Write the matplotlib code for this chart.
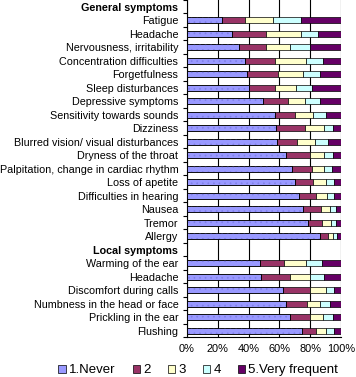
import numpy as np
import matplotlib
matplotlib.use("Agg")
import matplotlib.pyplot as plt
from matplotlib.patches import Patch

plt.rcParams['font.family'] = ['Liberation Sans', 'DejaVu Sans']
plt.rcParams['hatch.linewidth'] = 0.5

# Kategorien (None = Zwischenüberschrift ohne Balken)
labels = ["General symptoms", "Fatigue", "Headache", "Nervousness, irritability",
          "Concentration difficulties", "Forgetfulness", "Sleep disturbances",
          "Depressive symptoms", "Sensitivity towards sounds", "Dizziness",
          "Blurred vision/ visual disturbances", "Dryness of the throat",
          "Palpitation, change in cardiac rhythm", "Loss of apetite",
          "Difficulties in hearing", "Nausea", "Tremor", "Allergy",
          "Local symptoms", "Warming of the ear", "Headache",
          "Discomfort during calls", "Numbness in the head or face",
          "Prickling in the ear", "Flushing"]
headers = ["General symptoms", "Local symptoms"]

series_names = ["1.Never", "2", "3", "4", "5.Very frequent"]
never = [None, 23, 29.5, 34, 37.5, 39, 40.5, 49.5, 57, 58, 58.5, 64, 68, 70, 72.7, 75.5, 79, 86,
         None, 47.5, 48, 62, 64, 67, 74.4]
s2 = [None, 15, 21.5, 17, 19.5, 20, 16.5, 16, 13, 18.5, 13, 15.5, 13, 12, 11, 11.5, 8.6, 5,
      None, 15.5, 18.5, 18, 14, 12.5, 9.3]
s3 = [None, 18, 23, 16, 20, 16, 14, 11, 12, 12, 11.5, 9.5, 8, 8, 7, 6, 6, 3,
      None, 14, 13, 10, 8.5, 8.7, 6.5]
s4 = [None, 18, 11, 13, 11, 11, 10, 10, 8, 6, 8.5, 5.5, 5, 5, 4.5, 3.3, 3, 2.6,
      None, 10.5, 9, 5, 6, 6, 4.8]
s5 = [None, 26, 15, 20, 12, 14, 19, 13.5, 10, 5.5, 8.5, 5.5, 6, 5, 5, 3.7, 3.7, 3,
      None, 12.5, 11.5, 5, 7.5, 5.6, 5]

colors = ["#9999FF", "#993366", "#FFFFCC", "#CCFFFF", "#660066"]

fig = plt.figure(figsize=(3.56, 3.77), dpi=100)
ax = fig.add_axes([0.5244, 0.105, 0.4343, 0.895])

y = np.arange(len(labels))
data = np.array([[np.nan if v is None else v for v in s] for s in [never, s2, s3, s4, s5]])
data = data / np.nansum(data, axis=0) * 100

left = np.zeros(len(labels))
for k in range(5):
    vals = np.nan_to_num(data[k])
    mask = vals > 0
    ax.barh(y[mask], vals[mask], left=left[mask], height=0.45, color=colors[k],
            edgecolor="black", linewidth=0.5, zorder=3)
    if k == 0:
        # punktiertes Muster der ersten Reihe
        ax.barh(y[mask], vals[mask], left=left[mask], height=0.45, fill=False,
                hatch="...", edgecolor="#8080e8", linewidth=0, zorder=3.5)
        ax.barh(y[mask], vals[mask], left=left[mask], height=0.45, fill=False,
                edgecolor="black", linewidth=0.5, zorder=3.6)
    left += vals

ax.set_xlim(0, 100)
ax.set_ylim(len(labels) - 0.5, -0.5)
ax.set_xticks(np.arange(0, 101, 20))
ax.set_xticklabels([f"{v}%" for v in range(0, 101, 20)], fontsize=7.9)
ax.set_yticks(y)
ax.set_yticklabels(labels, fontsize=7.75)
for t in ax.get_yticklabels():
    if t.get_text() in headers:
        t.set_fontweight("bold")
ax.set_yticks(np.arange(-0.5, len(labels), 1), minor=True)
ax.tick_params(axis="y", which="major", length=0, pad=6)
ax.tick_params(axis="y", which="minor", length=3, width=0.8, direction="out")
ax.tick_params(axis="x", length=0, pad=5)

ax.grid(axis="x", color="black", linewidth=0.8, zorder=0)
for s in ["top", "right"]:
    ax.spines[s].set_visible(False)
ax.spines["left"].set_linewidth(0.8)
ax.spines["bottom"].set_linewidth(0.8)

handles = [Patch(facecolor=c, edgecolor="black", linewidth=0.5, label=n)
           for c, n in zip(colors, series_names)]
fig.legend(handles=handles, loc="lower center", bbox_to_anchor=(0.557, -0.03), ncol=5,
           frameon=False, fontsize=9.5, handlelength=0.55, handleheight=0.55,
           handletextpad=0.25, columnspacing=1.3)

fig.savefig("out.png", dpi=100)
